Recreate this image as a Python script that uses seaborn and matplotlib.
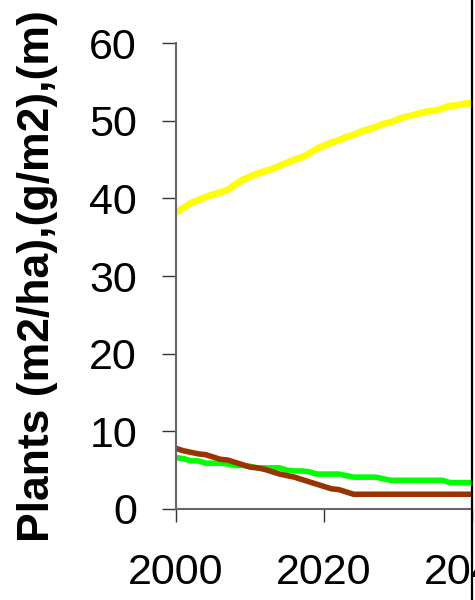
import pandas as pd
import matplotlib.pyplot as plt
import matplotlib.lines as mlines
import numpy as np
import seaborn as sns

# yearly values, 2000-2040
years = list(range(2000, 2041))
yellow_vals = [38.2, 38.8, 39.4, 39.8, 40.2, 40.5, 40.8, 41.1, 41.8, 42.4,
               42.8, 43.2, 43.5, 43.8, 44.2, 44.6, 45.0, 45.3, 45.8, 46.4,
               46.8, 47.2, 47.5, 47.9, 48.2, 48.6, 48.9, 49.2, 49.6, 49.8,
               50.2, 50.5, 50.7, 51.0, 51.2, 51.3, 51.6, 51.9, 52.0, 52.2, 52.3]
green_vals = [6.6, 6.5, 6.2, 6.2, 5.9, 5.9, 5.9, 5.8, 5.6, 5.6,
              5.5, 5.3, 5.3, 5.3, 5.3, 5.0, 4.9, 4.9, 4.8, 4.5,
              4.5, 4.5, 4.5, 4.3, 4.1, 4.1, 4.1, 4.1, 3.9, 3.7,
              3.7, 3.7, 3.7, 3.7, 3.7, 3.7, 3.7, 3.4, 3.4, 3.4, 3.4]
brown_vals = [7.8, 7.5, 7.3, 7.1, 7.0, 6.7, 6.4, 6.3, 6.0, 5.7,
              5.4, 5.3, 5.1, 4.8, 4.5, 4.3, 4.1, 3.8, 3.5, 3.2,
              2.9, 2.6, 2.5, 2.2, 1.9, 1.9, 1.9, 1.9, 1.9, 1.9,
              1.9, 1.9, 1.9, 1.9, 1.9, 1.9, 1.9, 1.9, 1.9, 1.9, 1.9]
series_names = ['yellow', 'green', 'brown']
series_colors = {'yellow': '#FFFF00', 'green': '#00FF00', 'brown': '#993300'}
series_widths = {'yellow': 4.8, 'green': 4.0, 'brown': 4.0}
x_ticks = [2000, 2020, 2040]
y_ticks = [0, 10, 20, 30, 40, 50, 60]

df = pd.DataFrame({
    'year': years * 3,
    'value': yellow_vals + green_vals + brown_vals,
    'series': np.repeat(series_names, len(years)),
})

sns.set_style('white')
plt.rcParams['font.family'] = ['Liberation Sans', 'DejaVu Sans']

fig = plt.figure(figsize=(4.75, 6), dpi=100)
ax = fig.add_axes([176 / 475, 91 / 600, 296 / 475, 466 / 600])

for name in series_names:
    sns.lineplot(data=df[df['series'] == name], x='year', y='value',
                 color=series_colors[name], linewidth=series_widths[name],
                 ax=ax, legend=False)

ax.set_xlim(2000, 2040)
ax.set_ylim(0, 60)
ax.set_xticks(x_ticks)
ax.set_yticks(y_ticks)
ax.set_xticklabels([str(t) for t in x_ticks])

for side in ['top', 'right']:
    ax.spines[side].set_visible(False)
for side in ['left', 'bottom']:
    ax.spines[side].set_color('#666666')
    ax.spines[side].set_linewidth(1.5)

ax.tick_params(axis='y', direction='out', length=10, width=1, color='#333333',
               labelsize=31, labelcolor='black', pad=18, left=True)
ax.tick_params(axis='x', direction='out', length=9, width=1, color='#333333',
               labelsize=31, labelcolor='black', pad=23, bottom=True)

ax.set_xlabel('')
ax.set_ylabel('Plants (m2/ha),(g/m2),(m)', fontsize=32, fontweight='bold',
              color='black')
ax.yaxis.set_label_coords(-0.40, 0.5)

# dark frame edge at the right of the picture
fig.add_artist(mlines.Line2D([472 / 475, 472 / 475], [0, 1], color='black',
                             linewidth=1.6, transform=fig.transFigure))

fig.savefig('out.png', dpi=100)
